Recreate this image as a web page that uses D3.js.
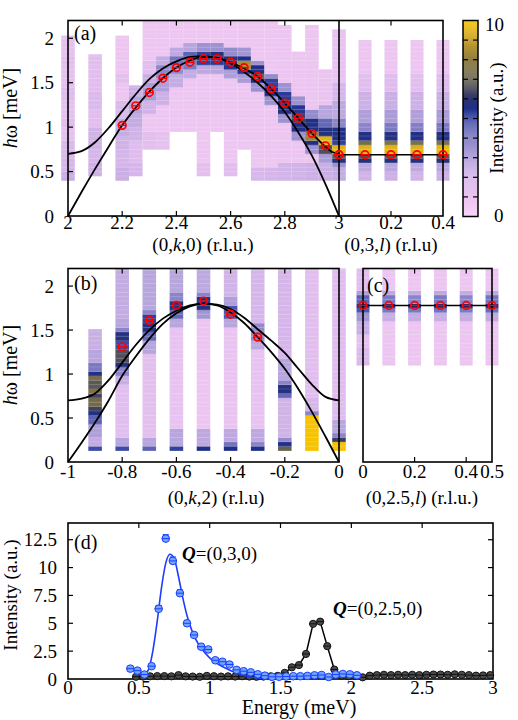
<!DOCTYPE html>
<html>
<head>
<meta charset="utf-8">
<script src="https://cdn.jsdelivr.net/npm/d3@7"></script>
<style>
body { margin: 0; background: #fff; }
svg { display: block; }
text { font-family: "Liberation Serif", "Times New Roman", serif; fill: #000; }
</style>
</head>
<body>
<div id="chart"></div>
<script>
// ---- data ----
// dispersion points (red circles)
var kA = [2.2, 2.25, 2.3, 2.35, 2.4, 2.45, 2.5, 2.55, 2.6, 2.65, 2.7, 2.75, 2.8, 2.85, 2.9, 2.95, 3.0];
var eA = [1.02, 1.24, 1.39, 1.55, 1.67, 1.73, 1.77, 1.77, 1.73, 1.67, 1.57, 1.43, 1.27, 1.10, 0.93, 0.79, 0.69];
var lA = [0, 0.1, 0.2, 0.3, 0.4];
var eAl = [0.69, 0.69, 0.69, 0.69, 0.69];
var kB = [-0.8, -0.7, -0.6, -0.5, -0.4, -0.3];
var eB = [1.31, 1.61, 1.78, 1.83, 1.68, 1.42];
var lC = [0, 0.1, 0.2, 0.3, 0.4, 0.5];
var eC = [1.78, 1.78, 1.78, 1.78, 1.78, 1.78];

// model dispersion curves [q, E]
var upperA = [[2.0,0.70],[2.05,0.73],[2.1,0.83],[2.15,0.99],[2.2,1.18],[2.25,1.37],[2.3,1.54],[2.35,1.66],[2.4,1.74],[2.45,1.79],[2.5,1.80],[2.55,1.78],[2.6,1.73],[2.65,1.66],[2.7,1.57],[2.75,1.43],[2.8,1.27],[2.85,1.10],[2.9,0.93],[2.95,0.78],[2.975,0.72],[3.0,0.70]];
var lowerA = [[2.0,0],[2.05,0.27],[2.1,0.53],[2.15,0.78],[2.2,1.02],[2.25,1.22],[2.3,1.40],[2.35,1.55],[2.4,1.67],[2.45,1.75],[2.5,1.79],[2.55,1.78],[2.6,1.72],[2.65,1.62],[2.7,1.50],[2.75,1.35],[2.8,1.17],[2.85,0.94],[2.9,0.68],[2.95,0.36],[3.0,0]];
var upperB = [[-1,0.70],[-0.95,0.72],[-0.9,0.78],[-0.85,0.93],[-0.8,1.13],[-0.75,1.33],[-0.7,1.50],[-0.65,1.63],[-0.6,1.72],[-0.55,1.78],[-0.5,1.80],[-0.45,1.79],[-0.4,1.74],[-0.35,1.64],[-0.3,1.51],[-0.25,1.38],[-0.2,1.24],[-0.15,1.06],[-0.1,0.88],[-0.05,0.74],[0,0.70]];
var lowerB = [[-1,0],[-0.95,0.22],[-0.9,0.45],[-0.85,0.70],[-0.8,0.98],[-0.75,1.20],[-0.7,1.40],[-0.65,1.57],[-0.6,1.69],[-0.55,1.77],[-0.5,1.80],[-0.45,1.78],[-0.4,1.70],[-0.35,1.58],[-0.3,1.42],[-0.25,1.25],[-0.2,1.06],[-0.15,0.83],[-0.1,0.57],[-0.05,0.29],[0,0]];

// heat-map columns: [q, Emin, Emax, background intensity, [[E0, E1, intensity], ...]]
var colsA = [
  [2.0, 0.40, 2.03, 1.3, [[0.40,0.50,2.4],[0.50,0.65,2.0],[0.65,0.85,1.8],[1.00,1.10,1.6],[1.30,1.45,1.6],[1.70,1.80,1.5]]],
  [2.1, 0.45, 1.82, 1.5, [[0.45,0.60,2.3],[0.60,0.75,2.0],[0.75,1.00,2.2],[1.20,1.40,1.8]]],
  [2.2, 0.40, 2.03, 1.0, [[0.40,0.55,2.4],[0.55,0.75,2.0],[0.75,0.90,2.2],[0.90,1.10,2.6],[1.10,1.30,1.8],[1.50,1.60,1.4]]],
  [2.25, 0.45, 1.47, 1.6, [[0.45,0.60,2.0],[0.85,1.00,2.2],[1.00,1.15,2.6],[1.15,1.35,3.0],[1.35,1.47,2.3]]],
  [2.3, 0.75, 2.2, 0.9, [[0.75,0.95,1.4],[1.15,1.28,2.2],[1.28,1.52,3.3],[1.52,1.62,2.4],[1.62,1.75,1.5]]],
  [2.35, 0.75, 2.2, 0.9, [[0.75,0.95,1.3],[1.25,1.40,2.3],[1.40,1.55,3.2],[1.55,1.70,3.9],[1.70,1.80,2.6]]],
  [2.4, 0.95, 2.2, 0.9, [[1.45,1.60,2.6],[1.60,1.70,3.8],[1.70,1.82,4.3],[1.82,1.90,2.8]]],
  [2.45, 0.95, 2.2, 0.9, [[1.55,1.65,2.6],[1.65,1.75,4.2],[1.75,1.85,4.6],[1.85,1.95,3.0]]],
  [2.5, 0.45, 2.2, 0.9, [[0.45,0.60,1.4],[1.60,1.70,2.8],[1.70,1.85,5.2],[1.85,1.95,3.6]]],
  [2.55, 0.95, 2.2, 0.9, [[1.60,1.70,3.0],[1.70,1.80,5.3],[1.80,1.85,5.8],[1.85,1.95,3.6]]],
  [2.6, 0.45, 2.2, 0.9, [[0.45,0.60,1.5],[1.55,1.65,3.2],[1.65,1.75,5.4],[1.75,1.82,5.9],[1.82,1.90,3.8]]],
  [2.65, 0.75, 2.2, 0.9, [[1.50,1.60,3.3],[1.60,1.65,5.3],[1.65,1.73,8.5],[1.73,1.80,5.6],[1.80,1.88,3.5]]],
  [2.7, 0.40, 2.2, 0.9, [[0.40,0.55,1.9],[1.40,1.48,3.6],[1.48,1.53,5.6],[1.53,1.60,7.0],[1.60,1.68,5.6],[1.68,1.75,3.6]]],
  [2.75, 0.40, 2.2, 0.9, [[0.40,0.55,2.0],[1.25,1.35,3.6],[1.35,1.45,5.5],[1.45,1.55,5.2],[1.55,1.62,3.8]]],
  [2.8, 0.40, 2.15, 1.0, [[0.40,0.60,2.1],[1.05,1.15,3.6],[1.15,1.30,5.7],[1.30,1.40,5.3],[1.40,1.48,3.6]]],
  [2.85, 0.40, 1.85, 1.0, [[0.40,0.60,2.2],[0.85,0.95,3.6],[0.95,1.05,5.6],[1.05,1.15,6.3],[1.15,1.25,5.4],[1.25,1.35,3.6]]],
  [2.9, 0.40, 2.15, 1.0, [[0.40,0.60,2.3],[0.70,0.80,3.6],[0.80,0.85,5.6],[0.85,0.97,8.2],[0.97,1.10,5.6],[1.10,1.20,3.8]]],
  [2.95, 0.40, 1.65, 1.1, [[0.40,0.60,2.4],[0.60,0.70,3.3],[0.70,0.78,6.6],[0.78,0.88,9.6],[0.88,1.00,5.7],[1.00,1.12,4.5],[1.12,1.25,3.0]]],
  [3.0, 0.40, 2.10, 1.2, [[0.40,0.55,2.6],[0.55,0.60,3.6],[0.60,0.65,5.8],[0.65,0.72,6.8],[0.72,0.82,9.6],[0.82,0.87,5.2],[0.87,1.00,5.6],[1.00,1.10,4.0],[1.10,1.30,2.8],[1.30,1.50,2.0]]]
];
var colsAl = [
  [0.1, 0.40, 1.98, 1.0, [[0.40,0.50,2.2],[0.50,0.60,2.8],[0.60,0.67,5.8],[0.67,0.72,6.6],[0.72,0.78,9.6],[0.78,0.83,7.4],[0.83,0.87,4.5],[0.87,0.93,5.6],[0.93,1.05,4.0],[1.05,1.20,3.2],[1.20,1.40,2.3],[1.40,1.60,1.5]]],
  [0.2, 0.40, 1.98, 1.0, [[0.40,0.50,2.3],[0.50,0.60,2.9],[0.60,0.67,5.8],[0.67,0.72,6.8],[0.72,0.78,9.6],[0.78,0.83,7.6],[0.83,0.87,5.0],[0.87,0.93,5.7],[0.93,1.05,4.2],[1.05,1.20,3.3],[1.20,1.40,2.4],[1.40,1.60,1.6]]],
  [0.3, 0.40, 1.98, 1.0, [[0.40,0.50,2.2],[0.50,0.60,2.8],[0.60,0.67,5.8],[0.67,0.72,6.6],[0.72,0.78,9.5],[0.78,0.83,7.5],[0.83,0.87,4.8],[0.87,0.93,5.6],[0.93,1.05,4.1],[1.05,1.20,3.2],[1.20,1.40,2.3],[1.40,1.60,1.5]]],
  [0.4, 0.40, 1.98, 1.0, [[0.40,0.50,2.3],[0.50,0.60,2.9],[0.60,0.67,5.9],[0.67,0.72,6.8],[0.72,0.78,9.7],[0.78,0.83,7.6],[0.83,0.87,4.8],[0.87,0.93,5.7],[0.93,1.05,4.2],[1.05,1.20,3.3],[1.20,1.40,2.4],[1.40,1.60,1.6]]]
];
var colsB = [
  [-0.9, 0.13, 1.51, 2.0, [[0.13,0.18,5.0],[0.18,0.30,2.6],[0.30,0.45,3.2],[0.45,0.52,4.6],[0.52,0.58,5.6],[0.58,0.65,6.3],[0.65,0.72,7.3],[0.72,0.78,6.4],[0.78,0.85,7.6],[0.85,0.92,6.8],[0.92,0.97,7.4],[0.97,1.05,5.6],[1.05,1.12,4.2],[1.12,1.30,3.0],[1.30,1.51,2.4]]],
  [-0.8, 0.13, 2.2, 1.5, [[0.13,0.18,5.0],[0.18,0.30,3.0],[0.90,1.00,2.5],[1.00,1.06,4.0],[1.06,1.13,5.6],[1.13,1.28,6.6],[1.28,1.40,5.0],[1.40,1.47,5.7],[1.47,1.55,4.0],[1.55,1.65,3.0],[1.65,2.20,2.6]]],
  [-0.7, 0.13, 2.2, 1.4, [[0.13,0.18,4.6],[0.18,0.30,3.0],[1.25,1.38,3.0],[1.38,1.48,4.5],[1.48,1.60,5.7],[1.60,1.68,5.2],[1.68,1.75,4.0],[1.75,2.20,3.0]]],
  [-0.6, 0.13, 2.2, 1.2, [[0.13,0.18,5.2],[0.18,0.40,3.0],[1.55,1.65,3.0],[1.65,1.72,4.5],[1.72,1.85,5.7],[1.85,1.95,4.0],[1.95,2.20,3.0]]],
  [-0.5, 0.13, 2.2, 1.0, [[0.13,0.18,5.6],[0.18,0.40,2.8],[1.65,1.72,3.5],[1.72,1.88,5.6],[1.88,1.95,4.0],[1.95,2.20,2.8]]],
  [-0.4, 0.13, 2.2, 1.1, [[0.13,0.18,5.6],[0.18,0.25,4.3],[0.25,0.40,2.8],[1.55,1.63,3.0],[1.63,1.78,4.8],[1.78,1.90,3.2],[1.90,2.20,2.2]]],
  [-0.3, 0.13, 2.2, 1.2, [[0.13,0.18,5.5],[0.18,0.25,4.0],[0.25,0.40,2.8],[1.30,1.38,2.8],[1.38,1.57,3.8],[1.57,2.20,2.0]]],
  [-0.2, 0.13, 2.2, 2.2, [[0.13,0.18,7.0],[0.18,0.23,5.5],[0.23,0.30,3.8],[0.75,0.80,4.5],[0.80,0.88,5.7],[0.88,0.95,4.0],[0.95,1.20,3.0],[1.20,2.20,2.0]]],
  [-0.1, 0.13, 2.2, 1.5, [[0.13,0.55,10],[0.55,0.60,4.0],[0.60,0.75,2.0]]],
  [0.0, 0.13, 2.2, 1.6, [[0.13,0.23,10],[0.23,0.28,6.2],[0.28,0.35,4.0],[0.35,0.50,3.0]]]
];
var colsC = [
  [0.0, 1.10, 2.2, 1.3, [[1.10,1.30,1.8],[1.45,1.60,2.5],[1.60,1.70,3.5],[1.70,1.75,4.8],[1.75,1.82,5.8],[1.82,1.88,4.6],[1.88,1.95,3.2],[1.95,2.20,1.5]]],
  [0.1, 1.10, 2.2, 1.0, [[1.60,1.70,2.5],[1.70,1.75,4.2],[1.75,1.82,5.6],[1.82,1.88,4.2],[1.88,1.95,2.8]]],
  [0.2, 1.10, 2.2, 1.0, [[1.60,1.70,2.6],[1.70,1.75,4.2],[1.75,1.82,5.6],[1.82,1.88,4.0],[1.88,1.95,2.6]]],
  [0.3, 1.10, 2.2, 1.0, [[1.60,1.70,2.5],[1.70,1.75,4.3],[1.75,1.82,5.6],[1.82,1.88,4.2],[1.88,1.95,2.8]]],
  [0.4, 1.10, 2.2, 1.0, [[1.60,1.70,2.6],[1.70,1.75,4.2],[1.75,1.82,5.5],[1.82,1.88,4.0],[1.88,1.95,2.6]]],
  [0.5, 1.10, 2.2, 1.0, [[1.60,1.70,2.7],[1.70,1.75,4.4],[1.75,1.82,5.7],[1.82,1.88,4.3],[1.88,1.95,2.8]]]
];

// (d) energy cuts
var eBlue = [0.44,0.49,0.54,0.59,0.64,0.69,0.74,0.79,0.84,0.89,0.94,0.99,1.04,1.09,1.14,1.19,1.24,1.29,1.34,1.39,1.44,1.49,1.54,1.59,1.64,1.69,1.74,1.79,1.84,1.89,1.94,1.99,2.04];
var iBlue = [0.93,0.75,0.40,1.15,6.3,12.6,10.6,7.7,5.0,3.95,2.9,2.65,1.68,1.55,1.3,0.82,0.7,0.6,0.42,0.3,0.2,0.2,0.22,0.25,0.25,0.28,0.33,0.36,0.18,0.4,0.45,0.42,0.33];
var errBlue = [0.15,0.15,0.15,0.2,0.3,0.35,0.35,0.3,0.25,0.2,0.2,0.2,0.15,0.15,0.15,0.15,0.15,0.15,0.15,0.15,0.15,0.15,0.15,0.15,0.15,0.15,0.15,0.15,0.15,0.15,0.15,0.15,0.15];
var fitE = [0.54,0.57,0.60,0.63,0.66,0.69,0.72,0.75,0.78,0.81,0.84,0.87,0.90,0.95,1.0,1.05,1.1,1.15,1.2,1.25,1.3,1.35,1.4,1.5];
var fitI = [0.35,0.9,2.6,5.2,8.2,10.4,11.2,10.8,9.2,7.3,5.7,4.5,3.6,2.6,1.9,1.4,1.05,0.75,0.5,0.3,0.15,0.07,0.03,0.0];
var eBlack = [0.48,0.53,0.58,0.63,0.68,0.73,0.78,0.83,0.88,0.93,0.98,1.03,1.08,1.13,1.18,1.23,1.28,1.33,1.38,1.43,1.48,1.53,1.58,1.63,1.68,1.73,1.78,1.83,1.88,1.93,1.98,2.03,2.08,2.13,2.18,2.23,2.28,2.33,2.38,2.43,2.48,2.53,2.58,2.63,2.68,2.73,2.78,2.83,2.88,2.93,2.98];
var iBlack = [0.20,0.22,0.24,0.26,0.26,0.24,0.35,0.24,0.22,0.20,0.28,0.25,0.22,0.24,0.22,0.25,0.22,0.20,0.22,0.24,0.28,0.55,1.05,1.25,2.25,4.95,5.15,2.95,0.85,0.30,0.25,0.28,0.15,0.30,0.35,0.38,0.35,0.38,0.35,0.38,0.35,0.38,0.40,0.40,0.38,0.42,0.38,0.35,0.30,0.32,0.35];

// tick labels
var ticksAk = [2, 2.2, 2.4, 2.6, 2.8, 3];
var ticksAl = [0.2, 0.4];
var ticksE = [0, 0.5, 1, 1.5, 2];
var ticksBk = [-1, -0.8, -0.6, -0.4, -0.2, 0];
var ticksCl = [0, 0.2, 0.4, 0.5];
var ticksDx = [0, 0.5, 1, 1.5, 2, 2.5, 3];
var ticksDy = [0, 2.5, 5, 7.5, 10, 12.5];

// colour map (intensity 0..10)
var cmapStops = [0, 1, 2, 3, 4, 5, 5.5, 6, 6.5, 7, 8, 9, 10];
var cmapColors = ["#f8d0f8", "#ecc5f1", "#d6b6ea", "#b7a5dd", "#8b84c8", "#3d4ba6", "#1f2f8b", "#2b3370", "#4a4a5e", "#67624f", "#8f7d42", "#c59e2b", "#f7c300"];

// ---- drawing ----
var W = 518, H = 720;
var color = d3.scaleLinear().domain(cmapStops).range(cmapColors).clamp(true);

var svg = d3.select("#chart").append("svg").attr("width", W).attr("height", H)
  .attr("font-family", "'Liberation Serif', 'Times New Roman', serif");

var xA = d3.scaleLinear().domain([2, 3]).range([68, 339]);
var xA2 = d3.scaleLinear().domain([0, 0.4]).range([339, 443]);
var yA = d3.scaleLinear().domain([0, 2.2]).range([216, 20.5]);
var xB = d3.scaleLinear().domain([-1, 0]).range([68, 339]);
var yB = d3.scaleLinear().domain([0, 2.2]).range([462, 268.5]);
var xC = d3.scaleLinear().domain([0, 0.5]).range([363, 492]);
var xD = d3.scaleLinear().domain([0, 3]).range([68, 493]);
var yD = d3.scaleLinear().domain([0, 14]).range([679, 523]);

var heat = svg.append("g");

function drawColumns(cols, x, y, w) {
  cols.forEach(function(c) {
    var q = c[0], lo = c[1], hi = c[2], base = c[3], bands = c[4];
    var x0 = x(q - w / 2), x1 = x(q + w / 2);
    for (var i = 0; lo + i * 0.05 < hi - 0.001; i++) {
      var e0 = lo + i * 0.05, e1 = Math.min(lo + (i + 1) * 0.05, hi);
      var mid = (e0 + e1) / 2, v = base;
      bands.forEach(function(b) { if (mid >= b[0] && mid < b[1]) v = b[2]; });
      heat.append("rect")
        .attr("x", x0).attr("width", x1 - x0)
        .attr("y", y(e1)).attr("height", y(e0) - y(e1) + 0.3)
        .attr("fill", color(v));
      if (i > 0) {
        heat.append("line")
          .attr("x1", x0).attr("x2", x1).attr("y1", y(e0)).attr("y2", y(e0))
          .attr("stroke", "#fff").attr("stroke-opacity", 0.25).attr("stroke-width", 0.6);
      }
    }
  });
}

drawColumns(colsA, xA, yA, 0.05);
drawColumns(colsAl, xA2, yA, 0.05);
drawColumns(colsB, xB, yB, 0.05);
drawColumns(colsC, xC, yB, 0.05);

function frame(x0, x1, y0, y1) {
  svg.append("rect").attr("x", x0).attr("y", y1).attr("width", x1 - x0).attr("height", y0 - y1)
    .attr("fill", "none").attr("stroke", "#000").attr("stroke-width", 1.6);
}
function xTicks(x, vals, y0, y1) {
  vals.forEach(function(v) {
    svg.append("line").attr("x1", x(v)).attr("x2", x(v)).attr("y1", y0).attr("y2", y0 - 5).attr("stroke", "#000").attr("stroke-width", 1.2);
    svg.append("line").attr("x1", x(v)).attr("x2", x(v)).attr("y1", y1).attr("y2", y1 + 5).attr("stroke", "#000").attr("stroke-width", 1.2);
  });
}
function yTicks(y, vals, x0, x1) {
  vals.forEach(function(v) {
    svg.append("line").attr("x1", x0).attr("x2", x0 + 5).attr("y1", y(v)).attr("y2", y(v)).attr("stroke", "#000").attr("stroke-width", 1.2);
    if (x1 != null) svg.append("line").attr("x1", x1).attr("x2", x1 - 5).attr("y1", y(v)).attr("y2", y(v)).attr("stroke", "#000").attr("stroke-width", 1.2);
  });
}
function xLabels(x, vals, yb) {
  vals.forEach(function(v) {
    svg.append("text").attr("x", x(v)).attr("y", yb).attr("text-anchor", "middle").attr("font-size", 19).text(String(v));
  });
}
function yLabels(y, vals, xr) {
  vals.forEach(function(v) {
    svg.append("text").attr("x", xr).attr("y", y(v) + 6.5).attr("text-anchor", "end").attr("font-size", 19).text(String(v));
  });
}
function rich(x, y, parts, size, anchor, rotate) {
  var g = svg.append("g").attr("transform", "translate(" + x + "," + y + ")" + (rotate ? " rotate(-90)" : ""));
  var t = g.append("text").attr("font-size", size).attr("text-anchor", anchor || "middle");
  parts.forEach(function(p) {
    var s = t.append("tspan").text(p[0]);
    if (p[1]) s.attr("font-style", "italic");
    if (p[2]) s.attr("font-weight", "bold");
  });
}

var curve = d3.line().curve(d3.curveMonotoneX);
function drawCurve(pts, x, y) {
  svg.append("path").attr("d", curve(pts.map(function(p) { return [x(p[0]), y(p[1])]; })))
    .attr("fill", "none").attr("stroke", "#000").attr("stroke-width", 1.8);
}
function redCircles(qs, es, x, y) {
  qs.forEach(function(q, i) {
    var cx = x(q), cy = y(es[i]);
    svg.append("line").attr("x1", cx - 3.8).attr("x2", cx + 3.8).attr("y1", cy).attr("y2", cy).attr("stroke", "#f00").attr("stroke-width", 1.3);
    svg.append("circle").attr("cx", cx).attr("cy", cy).attr("r", 3.8).attr("fill", "none").attr("stroke", "#f00").attr("stroke-width", 1.7);
  });
}

// panel (a)
frame(68, 443, 216, 20.5);
svg.append("line").attr("x1", 339).attr("x2", 339).attr("y1", 20.5).attr("y2", 216).attr("stroke", "#000").attr("stroke-width", 1.6);
xTicks(xA, [2.2, 2.4, 2.6, 2.8], 216, 20.5);
xTicks(xA2, [0.2], 216, 20.5);
yTicks(yA, [0.5, 1, 1.5, 2], 68);
drawCurve(upperA, xA, yA);
drawCurve(lowerA, xA, yA);
svg.append("line").attr("x1", xA2(0)).attr("x2", xA2(0.4)).attr("y1", yA(0.69)).attr("y2", yA(0.69)).attr("stroke", "#000").attr("stroke-width", 1.6);
redCircles(kA, eA, xA, yA);
redCircles(lA, eAl, xA2, yA);
xLabels(xA, ticksAk, 229);
xLabels(xA2, ticksAl, 229);
yLabels(yA, ticksE, 54);
rich(74, 40, [["(a)"]], 20, "start");
rich(203, 251, [["(0,"], ["k", 1], [",0) (r.l.u.)"]], 19);
rich(391, 251, [["(0,3,"], ["l", 1], [") (r.l.u)"]], 19);
rich(17, 108, [["h", 1], ["ω [meV]"]], 20, "middle", true);

// colour bar
var yCb = d3.scaleLinear().domain([0, 10]).range([216.5, 20.5]);
var cbSteps = d3.range(0, 10, 0.05);
svg.append("g").selectAll("rect").data(cbSteps).join("rect")
  .attr("x", 463).attr("width", 15)
  .attr("y", function(d) { return yCb(d + 0.05); })
  .attr("height", function(d) { return yCb(d) - yCb(d + 0.05) + 0.3; })
  .attr("fill", function(d) { return color(d + 0.025); });
svg.append("rect").attr("x", 463).attr("y", 20.5).attr("width", 15).attr("height", 196).attr("fill", "none").attr("stroke", "#000").attr("stroke-width", 1.5);
yTicks(yCb, [1, 2, 3, 4, 5, 6, 7, 8, 9], 463, 478);
svg.append("text").attr("x", 485).attr("y", 31).attr("font-size", 19).text("10");
svg.append("text").attr("x", 494).attr("y", 222).attr("font-size", 19).text("0");
rich(503, 118, [["Intensity (a.u.)"]], 19, "middle", true);

// panel (b)
frame(68, 339, 462, 268.5);
xTicks(xB, [-0.8, -0.6, -0.4, -0.2], 462, 268.5);
yTicks(yB, [0.5, 1, 1.5, 2], 68);
drawCurve(upperB, xB, yB);
drawCurve(lowerB, xB, yB);
redCircles(kB, eB, xB, yB);
xLabels(xB, ticksBk, 478);
yLabels(yB, ticksE, 54);
rich(74, 290, [["(b)"]], 20, "start");
rich(216, 504, [["(0,"], ["k", 1], [",2) (r.l.u)"]], 19);
rich(17, 365, [["h", 1], ["ω [meV]"]], 20, "middle", true);

// panel (c)
frame(363, 492, 462, 268.5);
xTicks(xC, [0.2, 0.4], 462, 268.5);
svg.append("line").attr("x1", xC(0)).attr("x2", xC(0.5)).attr("y1", yB(1.78)).attr("y2", yB(1.78)).attr("stroke", "#000").attr("stroke-width", 1.6);
redCircles(lC, eC, xC, yB);
xLabels(xC, ticksCl, 478);
rich(367, 292, [["(c)"]], 20, "start");
rich(422, 504, [["(0,2.5,"], ["l", 1], [") (r.l.u.)"]], 19);

// panel (d)
frame(68, 493, 679, 523);
xTicks(xD, [0.5, 1, 1.5, 2, 2.5], 679, 523);
yTicks(yD, [2.5, 5, 7.5, 10, 12.5], 68, 493);
xLabels(xD, ticksDx, 694);
yLabels(yD, ticksDy, 57);
rich(74, 549, [["(d)"]], 20, "start");
rich(299, 714, [["Energy (meV)"]], 20);
rich(17, 595, [["Intensity (a.u.)"]], 19, "middle", true);

var blackPts = eBlack.map(function(e, i) { return [xD(e), yD(iBlack[i])]; });
svg.append("path").attr("d", d3.line()(blackPts)).attr("fill", "none").attr("stroke", "#000").attr("stroke-width", 1.5);
blackPts.forEach(function(p) {
  svg.append("circle").attr("cx", p[0]).attr("cy", p[1]).attr("r", 3.6).attr("fill", "#4a4a4a").attr("stroke", "#111").attr("stroke-width", 1);
  svg.append("line").attr("x1", p[0] - 3.6).attr("x2", p[0] + 3.6).attr("y1", p[1]).attr("y2", p[1]).attr("stroke", "#111").attr("stroke-width", 1);
});

var fitPts = fitE.map(function(e, i) { return [xD(e), yD(fitI[i])]; });
svg.append("path").attr("d", d3.line().curve(d3.curveMonotoneX)(fitPts)).attr("fill", "none").attr("stroke", "#1e3cff").attr("stroke-width", 1.6);
eBlue.forEach(function(e, i) {
  var cx = xD(e), cy = yD(iBlue[i]), t = yD(iBlue[i] + errBlue[i]), b = yD(iBlue[i] - errBlue[i]);
  svg.append("line").attr("x1", cx).attr("x2", cx).attr("y1", t).attr("y2", b).attr("stroke", "#1e3cff").attr("stroke-width", 1.2);
  svg.append("line").attr("x1", cx - 3).attr("x2", cx + 3).attr("y1", t).attr("y2", t).attr("stroke", "#1e3cff").attr("stroke-width", 1.2);
  svg.append("circle").attr("cx", cx).attr("cy", cy).attr("r", 3.8).attr("fill", "#6fa8f7").attr("stroke", "#1e3cff").attr("stroke-width", 1);
  svg.append("line").attr("x1", cx - 3.8).attr("x2", cx + 3.8).attr("y1", cy).attr("y2", cy).attr("stroke", "#1e3cff").attr("stroke-width", 1);
});

rich(182, 560, [["Q", 1, 1], ["=(0,3,0)"]], 19, "start");
rich(333, 615, [["Q", 1, 1], ["=(0,2.5,0)"]], 19, "start");
</script>
</body>
</html>
